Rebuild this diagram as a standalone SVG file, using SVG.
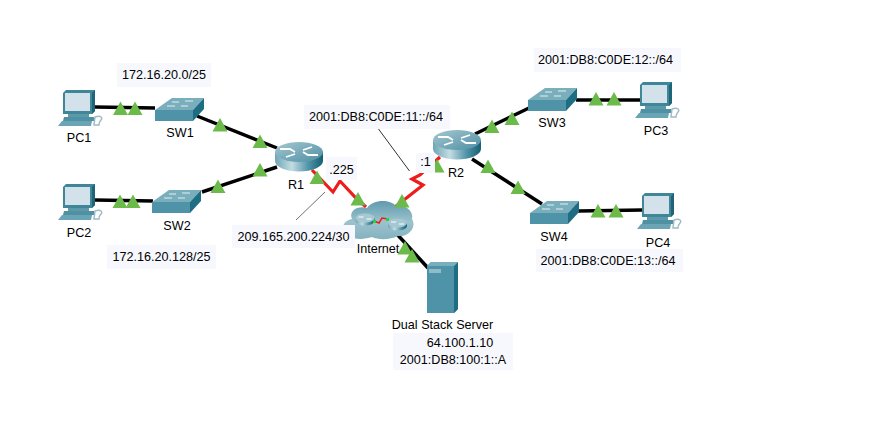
<svg xmlns="http://www.w3.org/2000/svg" width="880" height="422" viewBox="0 0 880 422">
<style>
text{font-family:"Liberation Sans",Arial,sans-serif;font-size:12.6px;fill:#000;text-anchor:middle}
.box{fill:#f7f8fe}
.eth{fill:none;stroke:#000;stroke-width:3.500}
.ser{fill:none;stroke:#ee1c1c;stroke-width:3.200}
.tri{fill:#6cbb4a}
.lead{stroke:#333;stroke-width:1;fill:none}
</style>
<defs>
<linearGradient id="rg" x1="0" x2="1" y1="0" y2="0"><stop offset="0" stop-color="#6ea5b5"/><stop offset=".35" stop-color="#c3dce2"/><stop offset=".7" stop-color="#4f93a8"/><stop offset="1" stop-color="#175f74"/></linearGradient>
<linearGradient id="rt" x1="0" x2="1" y1="0" y2="1"><stop offset="0" stop-color="#a6c8d2"/><stop offset="1" stop-color="#4d8fa3"/></linearGradient>
<linearGradient id="cg" x1="0" x2="0" y1="0" y2="1"><stop offset="0" stop-color="#5f9bad"/><stop offset=".55" stop-color="#9cc2cd"/><stop offset="1" stop-color="#84b2bf"/></linearGradient>
<g id="pc">
<path d="M5 3 L8 0 H37 V21 L34 24 H5Z" fill="#3f8699"/>
<path d="M7 3 H32 V21 H7Z" fill="#d3e2ea"/>
<path d="M34 3 L37 0 V21 L34 24Z" fill="#1f6478"/>
<path d="M10 24 H31 V27 H10Z" fill="#5c9aab"/>
<path d="M6 27 H36 L37 31 H5Z" fill="#4f90a3"/>
<path d="M4 31 H34 L33 36 H0Z" fill="#6aa5b5"/>
<path d="M37 27 C43 25 45 28 43 30 C41 32 41 33 41 35 H36Z" fill="none" stroke="#9fbcc5" stroke-width="1.500"/>
</g>
<g id="sw">
<path d="M0 12 L17 0 H49 L38 12Z" fill="#79aebd"/>
<path d="M0 12 H38 V23 H0Z" fill="#4f93a8"/>
<path d="M38 12 L49 0 V11 L38 23Z" fill="#1f6d82"/>
<path d="M17 4 H24 M30 3 H38 M12 8 H20 M26 8 H33" stroke="#e6f0f3" stroke-width="1"/>
</g>
<g id="rtr">
<path d="M0 10 V19 A24 10.500 0 0 0 48 19 V10Z" fill="url(#rg)"/>
<ellipse cx="24" cy="10" rx="24" ry="10" fill="url(#rt)"/>
<path d="M5 7 H15 L20 10 M43 13 H33 L28 10 M11 15 L20 12 M37 5 L28 8" fill="none" stroke="#fff" stroke-width="1.800"/>
</g>
<g id="mini">
<path d="M0 5 V8 A9.500 4.500 0 0 0 19 8 V5Z" fill="url(#rg)"/>
<ellipse cx="9.500" cy="5" rx="9.500" ry="4.500" fill="#a6c8d2"/>
<path d="M3 4 H8 M16 6 H11" stroke="#fff" stroke-width="1"/>
</g>
<path id="t" class="tri" d="M0 -7 L7.500 6.500 H-7.500Z"/>
</defs>

<g id="connectors">
<path class="eth" d="M95 107 L155 108"/>
<path class="eth" d="M197 116 L277 148"/>
<path class="eth" d="M95 200 L153 201"/>
<path class="eth" d="M202 192 L277 167"/>
<path class="eth" d="M475 134 L529 108"/>
<path class="eth" d="M576 100 L640 100"/>
<path class="eth" d="M472 159 L542 204"/>
<path class="eth" d="M578 211 L642 210"/>
<path class="eth" d="M395 232 L428 268"/>
<path class="ser" d="M312 170 L333 192 L340 181 L355 197 L366 207"/>
<path class="ser" d="M440 157 L420 175 L412 179 L423 185 L395 207"/>
<path class="lead" d="M378.500 129 L409.500 171"/>
<path class="lead" stroke-opacity=".7" d="M325 192 L296 220"/>
</g>

<g id="PC1"><use href="#pc" x="58" y="90"/><text x="79" y="142">PC1</text></g>
<g id="PC2"><use href="#pc" x="58" y="184"/><text x="79" y="237">PC2</text></g>
<g id="PC3"><use href="#pc" x="635" y="82"/><text x="656" y="135">PC3</text></g>
<g id="PC4"><use href="#pc" x="637" y="193"/><text x="658" y="247">PC4</text></g>
<g id="SW1"><use href="#sw" x="155" y="98"/><text x="180" y="137">SW1</text></g>
<g id="SW2"><use href="#sw" x="152" y="190"/><text x="177" y="230">SW2</text></g>
<g id="SW3"><use href="#sw" x="528" y="88"/><text x="552" y="127">SW3</text></g>
<g id="SW4"><use href="#sw" x="530" y="201"/><text x="554" y="241">SW4</text></g>
<g id="R1"><use href="#rtr" x="275" y="142"/><text x="296" y="189">R1</text></g>
<g id="R2"><use href="#rtr" x="433" y="130"/><text x="456" y="177">R2</text></g>

<g id="Internet">
<path d="M350 237 C340 232 341 221 352 219 C348 210 359 205 367 208 C373 199 390 199 396 206 C405 204 414 211 412 219 C417 227 409 237 398 236 C390 240 378 240 372 237 C366 239 357 240 350 237Z" fill="url(#cg)"/>
<use href="#mini" x="355.500" y="213"/>
<use href="#mini" x="388" y="218"/>
<path d="M374 221 L379 223 L382 218 L388 219" fill="none" stroke="#ee1c1c" stroke-width="1.500"/>
<rect x="373" y="220" width="3" height="3" fill="#2fd02f"/><rect x="386" y="218" width="3" height="3" fill="#2fd02f"/>
<text x="378" y="253">Internet</text>
</g>

<g id="Server">
<path d="M427 266 L431 262 H458 V309 L454 313 H427Z" fill="#4f93a8"/>
<path d="M454 266 L458 262 V309 L454 313Z" fill="#1f6d82"/>
<path d="M427 266 L431 262 H458 L454 266Z" fill="#79aebd"/>
<rect x="429" y="269" width="12" height="4" fill="#8fbcc9"/>
<text x="442.500" y="329">Dual Stack Server</text>
</g>

<g id="markers">
<use href="#t" x="120.500" y="108.500"/><use href="#t" x="135" y="108.500"/>
<use href="#t" x="220" y="125"/><use href="#t" x="260" y="141.500"/>
<use href="#t" x="260" y="170"/><use href="#t" x="218" y="186.500"/>
<use href="#t" x="120" y="201.500"/><use href="#t" x="133" y="201.500"/>
<use href="#t" x="317" y="177.500"/><use href="#t" x="358" y="199"/>
<use href="#t" x="402" y="201"/><use href="#t" x="437" y="166"/>
<use href="#t" x="405" y="248"/><use href="#t" x="412" y="256"/>
<use href="#t" x="492" y="126.500"/><use href="#t" x="512" y="118.500"/>
<use href="#t" x="596" y="99"/><use href="#t" x="614" y="99"/>
<use href="#t" x="488" y="166.500"/><use href="#t" x="518" y="187.500"/>
<use href="#t" x="598" y="211"/><use href="#t" x="616" y="211"/>
</g>

<g id="labels">
<rect class="box" x="117" y="63" width="94" height="24"/><text x="164" y="79">172.16.20.0/25</text>
<rect class="box" x="107" y="245" width="109" height="24"/><text x="161.500" y="261">172.16.20.128/25</text>
<rect class="box" x="304" y="105" width="146" height="24"/><text x="376" y="121">2001:DB8:C0DE:11::/64</text>
<rect class="box" x="326" y="157" width="31" height="23"/><text x="341.500" y="174">.225</text>
<rect class="box" x="416" y="153" width="19" height="20"/><text x="425.500" y="166">:1</text>
<rect class="box" x="232" y="225" width="123" height="23"/><text x="293.500" y="241">209.165.200.224/30</text>
<rect class="box" x="534" y="48" width="147" height="24"/><text x="605.500" y="64">2001:DB8:C0DE:12::/64</text>
<rect class="box" x="536" y="249" width="147" height="23"/><text x="608" y="265">2001:DB8:C0DE:13::/64</text>
<rect class="box" x="393" y="333" width="120" height="37"/>
<text x="460" y="347">64.100.1.10</text><text x="453" y="364">2001:DB8:100:1::A</text>
</g>
</svg>
